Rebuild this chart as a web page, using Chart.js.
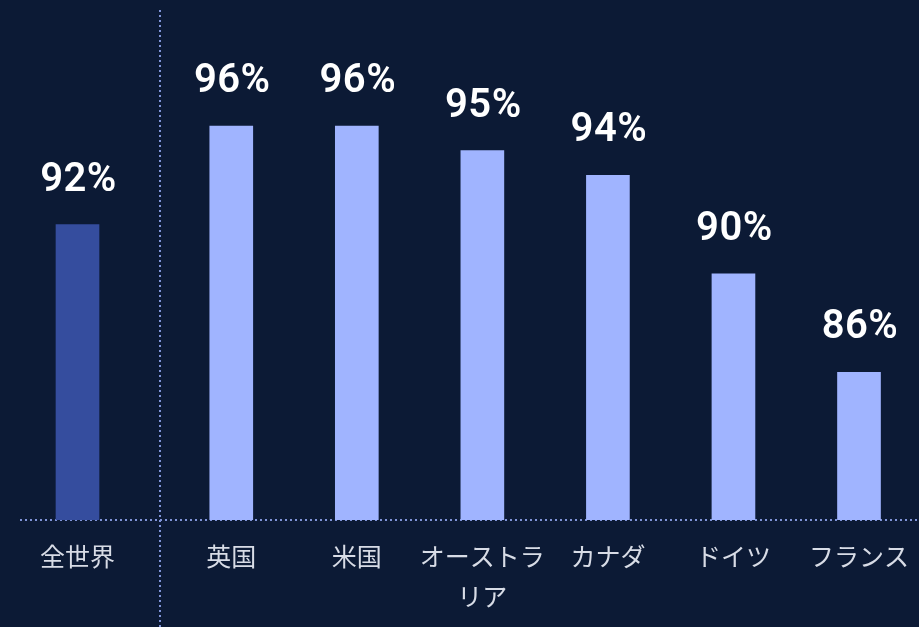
<!DOCTYPE html>
<html lang="ja">
<head>
<meta charset="utf-8">
<title>国別の割合</title>
<script src="https://cdn.jsdelivr.net/npm/chart.js@4.4.1/dist/chart.umd.min.js"></script>
<style>
  html, body { margin: 0; padding: 0; background: #0c1a35; overflow: hidden; }
  #wrap { position: relative; width: 919px; height: 627px; overflow: hidden; }
  #worldBox { position: absolute; left: 0; top: 0; width: 160px; height: 627px; }
  #countryBox { position: absolute; left: 150px; top: 0; width: 775px; height: 627px; }
</style>
</head>
<body>
<div id="wrap">
  <div id="worldBox"><canvas id="worldChart"></canvas></div>
  <div id="countryBox"><canvas id="countryChart"></canvas></div>
</div>
<script>
// 全世界の値
const worldLabels = ['全世界'];
const worldValues = [92];

// 国別の値
const countryLabels = ['英国', '米国', ['オーストラ', 'リア'], 'カナダ', 'ドイツ', 'フランス'];
const countryValues = [96, 96, 95, 94, 90, 86];

// 縦軸の範囲
const yMin = 80;
const yMax = 100;

const DOT = '#8094d8';

// 棒の上に値を描く
const valueLabels = {
    id: 'valueLabels',
    afterDatasetsDraw(chart) {
        const ctx = chart.ctx;
        const meta = chart.getDatasetMeta(0);
        const data = chart.data.datasets[0].data;
        ctx.save();
        ctx.fillStyle = '#ffffff';
        ctx.font = '600 40px Roboto, "Noto Sans", sans-serif';
        ctx.letterSpacing = '0.5px';
        ctx.textAlign = 'center';
        ctx.textBaseline = 'alphabetic';
        meta.data.forEach((bar, i) => {
            ctx.fillText(data[i] + '%', bar.x + 1, bar.y - 34);
        });
        ctx.restore();
    }
};

// 点線の基準線と区切り線
const dottedLines = {
    id: 'dottedLines',
    beforeDatasetsDraw(chart, args, opts) {
        const ctx = chart.ctx;
        const y = chart.chartArea.bottom;
        ctx.save();
        ctx.strokeStyle = DOT;
        ctx.lineWidth = 2;
        ctx.setLineDash([2, 3]);
        ctx.beginPath();
        ctx.moveTo(opts.from, y);
        ctx.lineTo(chart.width, y);
        ctx.stroke();
        if (opts.divider != null) {
            ctx.beginPath();
            ctx.moveTo(opts.divider, 10);
            ctx.lineTo(opts.divider, chart.height);
            ctx.stroke();
        }
        ctx.restore();
    }
};

function makeOptions(padding, lines) {
    return {
        responsive: true,
        maintainAspectRatio: false,
        animation: false,
        layout: { padding: padding },
        plugins: {
            legend: { display: false },
            tooltip: { enabled: false },
            dottedLines: lines
        },
        scales: {
            x: {
                grid: { display: false, drawTicks: false },
                border: { display: false },
                ticks: {
                    color: '#d8dce6',
                    padding: 16,
                    maxRotation: 0,
                    autoSkip: false,
                    font: { family: '"Noto Sans CJK JP", sans-serif', size: 25, lineHeight: 1.6 }
                },
                afterFit(scale) { scale.height = 107; }
            },
            y: {
                display: false,
                min: yMin,
                max: yMax
            }
        }
    };
}

new Chart(document.getElementById('worldChart'), {
    type: 'bar',
    data: {
        labels: worldLabels,
        datasets: [{
            data: worldValues,
            backgroundColor: '#354d9e',
            barThickness: 43
        }]
    },
    options: makeOptions({ left: 20, right: 25, top: 27.5, bottom: 0 }, { from: 20, divider: null }),
    plugins: [dottedLines, valueLabels]
});

new Chart(document.getElementById('countryChart'), {
    type: 'bar',
    data: {
        labels: countryLabels,
        datasets: [{
            data: countryValues,
            backgroundColor: '#a0b4ff',
            barThickness: 43
        }]
    },
    options: makeOptions({ left: 18.5, right: 0, top: 27.5, bottom: 0 }, { from: 10, divider: 10 }),
    plugins: [dottedLines, valueLabels]
});
</script>
</body>
</html>
